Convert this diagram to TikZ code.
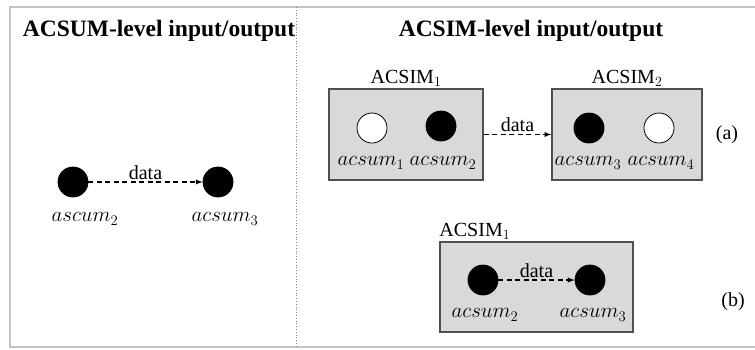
\RequirePackage{fix-cm}
\documentclass[tikz,border=0pt]{standalone}
\usepackage{fontspec}
\setmainfont{Liberation Serif}
\usepackage{tikz}
\usetikzlibrary{arrows,shapes,positioning,calc}

\definecolor{framegray}{RGB}{195,195,195}
\definecolor{boxfill}{RGB}{217,217,217}
\definecolor{boxline}{RGB}{80,80,80}

\tikzset{
    txt/.style={font=\fontsize{20}{24}\selectfont, inner sep=2pt},
    mlab/.style={font=\fontsize{21}{25}\selectfont, inner sep=2pt},
    title/.style={font=\bfseries\fontsize{23.5}{28}\selectfont, inner sep=0pt},
    dot/.style={circle, draw=black, thick, fill=black, minimum size=30pt, inner sep=0pt},
    hollow/.style={circle, draw=black, thick, fill=white, minimum size=30pt, inner sep=0pt},
    acsimbox/.style={rectangle, draw=boxline, line width=1.5pt, fill=boxfill, inner sep=0pt},
    flow/.style={line width=1.3pt, dash pattern=on 5pt off 3.5pt, -latex}
}

\begin{document}
\begin{tikzpicture}[x=1pt, y=-1pt]
        \useasboundingbox (0,0) rectangle (755,349);
        % frame and divider
        \draw[framegray, line width=1.5pt] (755,7) -- (10,7) -- (10,347) -- (755,347);
        \draw[framegray!70!black, dotted, thick] (296,7) -- (296,347);
        \node[title] (acsumtitle) at (159,31) {ACSUM-level input/output};
        \node[title] (acsimtitle) at (531,31) {ACSIM-level input/output};
        % ACSUM level
        \node[dot] (u2) at (73,182) {};
        \node[dot] (u3) at (218,182) {};
        \node[mlab] (u2lab) at (85,219) {$ascum_2$};
        \node[mlab] (u3lab) at (225,219) {$acsum_3$};
        \draw[flow] (u2) -- (u3) node[txt, midway, above] {data};
        % ACSIM level (a)
        \node[acsimbox, minimum width=154pt, minimum height=91pt] (simA) at (406,134.5) {};
        \node[acsimbox, minimum width=150pt, minimum height=91pt] (simB) at (627,134.5) {};
        \node[txt, above] (simAlab) at (simA.north) {ACSIM$_1$};
        \node[txt, above] (simBlab) at (simB.north) {ACSIM$_2$};
        \node[hollow] (a1) at (372,128) {};
        \node[dot] (a2) at (441,126) {};
        \node[dot] (a3) at (589,128) {};
        \node[hollow] (a4) at (659,128) {};
        \node[mlab] (a1lab) at (371,163) {$acsum_1$};
        \node[mlab] (a2lab) at (443,163) {$acsum_2$};
        \node[mlab] (a3lab) at (588,163) {$acsum_3$};
        \node[mlab] (a4lab) at (661,163) {$acsum_4$};
        \draw[flow] (simA) -- (simB) node[txt, midway, above] {data};
        \node[txt] (tagA) at (727,135) {(a)};
        % ACSIM level (b)
        \node[acsimbox, minimum width=193pt, minimum height=90pt] (simC) at (536.5,287) {};
        \node[txt, above right, inner xsep=0pt] (simClab) at (simC.north west) {ACSIM$_1$};
        \node[dot] (b2) at (483,280) {};
        \node[dot] (b3) at (590,280) {};
        \node[mlab] (b2lab) at (485,315) {$acsum_2$};
        \node[mlab] (b3lab) at (593,315) {$acsum_3$};
        \draw[flow] (b2) -- (b3) node[txt, midway, above] {data};
        \node[txt] (tagB) at (733,302) {(b)};
    \end{tikzpicture}
\end{document}
